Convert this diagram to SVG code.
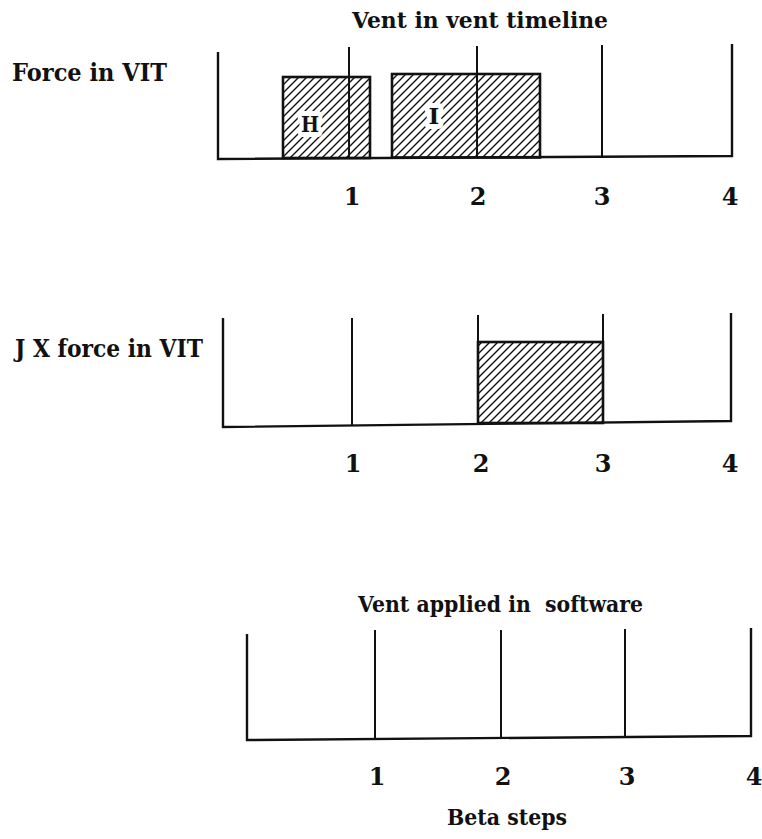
<svg xmlns="http://www.w3.org/2000/svg" width="762" height="839" viewBox="0 0 762 839">
<style>
.t{font-family:"DejaVu Serif","Liberation Serif",serif;font-weight:bold;fill:#111;}
.lbl{font-size:24px;}
.ttl{font-size:23px;}
.num{font-size:24px;text-anchor:middle;}
.ax{fill:none;stroke:#111;stroke-width:2.4;stroke-linejoin:miter;}
.tk{stroke:#111;stroke-width:2;}
.box{fill:url(#hatch);stroke:#111;stroke-width:2.6;}
.in{font-size:23px;text-anchor:middle;paint-order:stroke;stroke:#fff;stroke-width:10px;stroke-linejoin:round;}
</style>
<defs>
<pattern id="hatch" patternUnits="userSpaceOnUse" width="8" height="8">
<rect width="8" height="8" fill="#fff"/>
<path d="M-2,2 L2,-2 M0,8 L8,0 M6,10 L10,6" stroke="#111" stroke-width="1.4"/>
</pattern>
</defs>
<rect width="762" height="839" fill="#fff"/>

<g id="chart-vit">
<text class="t ttl" x="352" y="28" textLength="256" lengthAdjust="spacingAndGlyphs">Vent in vent timeline</text>
<text class="t lbl" x="12" y="81" textLength="155" lengthAdjust="spacingAndGlyphs">Force in VIT</text>
<g id="box-h">
<rect class="box" x="283" y="77" width="87" height="81"/>
<text class="t in" x="310" y="132" textLength="18" lengthAdjust="spacingAndGlyphs">H</text>
</g>
<g id="box-i">
<rect class="box" x="392" y="74" width="148" height="83.5"/>
<text class="t in" x="434" y="124">I</text>
</g>
<polyline class="ax" points="218,52 218,159 732,156 732,44"/>
<line class="tk" x1="349" y1="47" x2="349" y2="158.2"/>
<line class="tk" x1="477" y1="46" x2="477" y2="157.5"/>
<line class="tk" x1="602" y1="45" x2="602" y2="156.8"/>
<text class="t num" x="352" y="205">1</text>
<text class="t num" x="478" y="205">2</text>
<text class="t num" x="602" y="205">3</text>
<text class="t num" x="730" y="205">4</text>
</g>

<g id="chart-jx">
<text class="t lbl" x="15" y="357" textLength="188" lengthAdjust="spacingAndGlyphs">J X force in VIT</text>
<g id="box-jx">
<rect class="box" x="478" y="342" width="125" height="81"/>
</g>
<polyline class="ax" points="223,318 223,427 731,421 731,313"/>
<line class="tk" x1="352" y1="318" x2="352" y2="425.5"/>
<line class="tk" x1="478" y1="315" x2="478" y2="424"/>
<line class="tk" x1="603" y1="314" x2="603" y2="422.5"/>
<text class="t num" x="353" y="472">1</text>
<text class="t num" x="481" y="472">2</text>
<text class="t num" x="603" y="472">3</text>
<text class="t num" x="730" y="472">4</text>
</g>

<g id="chart-software">
<text class="t ttl" x="358" y="612" textLength="285" lengthAdjust="spacingAndGlyphs" xml:space="preserve">Vent applied in  software</text>
<polyline class="ax" points="247,634 247,740 751,736 751,628"/>
<line class="tk" x1="375" y1="630" x2="375" y2="739"/>
<line class="tk" x1="501" y1="630" x2="501" y2="738"/>
<line class="tk" x1="625" y1="629" x2="625" y2="737"/>
<text class="t num" x="377" y="785">1</text>
<text class="t num" x="503" y="785">2</text>
<text class="t num" x="627" y="785">3</text>
<text class="t num" x="754" y="785">4</text>
<text class="t ttl" x="447" y="825" textLength="120" lengthAdjust="spacingAndGlyphs">Beta steps</text>
</g>
</svg>
